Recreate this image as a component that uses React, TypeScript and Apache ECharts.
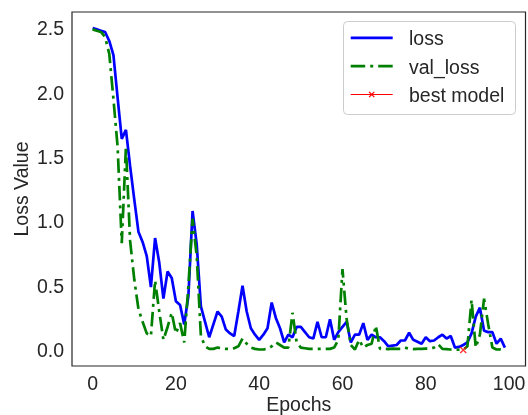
import { useEffect, useRef } from "react";
import * as echarts from "echarts";

const FONT = "'Liberation Sans', Arial, Helvetica, sans-serif";

const seriesNames = ["loss", "val_loss", "best model"];
const xTicks = [0, 20, 40, 60, 80, 100];
const yTicks = [0, 0.5, 1.0, 1.5, 2.0, 2.5];

const loss = [
  2.5, 2.49, 2.48, 2.47, 2.4, 2.29, 1.96, 1.64, 1.71, 1.43,
  1.17, 0.92, 0.84, 0.73, 0.49, 0.87, 0.68, 0.4, 0.61, 0.56,
  0.38, 0.35, 0.2, 0.42, 1.08, 0.82, 0.34, 0.22, 0.1, 0.2,
  0.3, 0.26, 0.16, 0.13, 0.11, 0.3, 0.5, 0.3, 0.17, 0.12,
  0.08, 0.12, 0.17, 0.37, 0.25, 0.17, 0.06, 0.12, 0.1, 0.18,
  0.18, 0.14, 0.1, 0.09, 0.22, 0.1, 0.1, 0.24, 0.08, 0.14,
  0.18, 0.22, 0.06, 0.12, 0.12, 0.21, 0.08, 0.12, 0.1, 0.1,
  0.07, 0.03, 0.035, 0.04, 0.075, 0.075, 0.135, 0.08, 0.065, 0.05,
  0.1, 0.07, 0.075, 0.1, 0.12, 0.09, 0.11, 0.02, 0.025, 0.04,
  0.06, 0.13, 0.26, 0.33, 0.15, 0.14, 0.14, 0.05, 0.09, 0.02,
];

const valLoss = [
  2.49, 2.48, 2.47, 2.43, 2.3, 1.95, 1.58, 0.83, 1.58, 0.85,
  0.55, 0.32, 0.22, 0.13, 0.11, 0.54, 0.3, 0.08, 0.18, 0.29,
  0.13, 0.21, 0.06, 0.5, 1.02, 0.73, 0.11, 0.03, 0.01, 0.01,
  0.02, 0.015, 0.01, 0.01, 0.015, 0.03, 0.09, 0.05, 0.02, 0.01,
  0.005, 0.005, 0.01, 0.03, 0.06, 0.04, 0.02, 0.02, 0.29, 0.06,
  0.02, 0.015, 0.01, 0.01, 0.01, 0.01, 0.01, 0.01, 0.02, 0.08,
  0.63, 0.24, 0.04, 0.005, 0.08, 0.02, 0.04, 0.05, 0.19, 0.01,
  0.01, 0.008, 0.012, 0.01, 0.01, 0.02, 0.01, 0.008, 0.01, 0.01,
  0.012, 0.01, 0.02, 0.045, 0.01, 0.008, 0.005, 0.004, 0.003, 0.002,
  0.03, 0.39, 0.02, 0.12, 0.4, 0.2, 0.02, 0.005, 0.006, 0.005,
];

const bestEpoch = [89];
const bestValue = [0.002];

const BLUE = "#0000ff";
const GREEN = "#008000";
const RED = "#ff0000";
const TEXT = "#262626";
const DASH_DOT = [14.5, 5, 3, 5];
const X_PATH = "path://M0,0L10,10M10,0L0,10";

export default function App() {
  const ref = useRef<HTMLDivElement>(null);

  useEffect(() => {
    if (!ref.current) return;
    document.body.style.margin = "0";
    const chart = echarts.init(ref.current, undefined, { renderer: "svg" });

    const legendX = 343.5;
    const legendY = 21.5;
    const rowY = [38.3, 66.7, 95];
    const lineX1 = 350.7;
    const lineX2 = 392.7;
    const textX = 409;
    const midX = (lineX1 + lineX2) / 2;
    const xs = 2.6;

    const option: any = {
      animation: false,
      textStyle: { fontFamily: FONT },
      grid: {
        left: 72,
        right: 2.5,
        top: 12,
        bottom: 49,
        show: true,
        borderColor: TEXT,
        borderWidth: 1.2,
        backgroundColor: "transparent",
        containLabel: false,
        outerBoundsMode: "none",
      },
      xAxis: {
        type: "value",
        min: -4.95,
        max: 103.95,
        axisLine: { show: false },
        axisTick: { show: false },
        splitLine: { show: false },
        axisLabel: {
          customValues: xTicks,
          fontSize: 19.5,
          color: TEXT,
          fontFamily: FONT,
          margin: 7,
        },
        name: "Epochs",
        nameLocation: "middle",
        nameGap: 28,
        nameMoveOverlap: false,
        nameTextStyle: { fontSize: 19.5, color: TEXT, fontFamily: FONT },
      },
      yAxis: {
        type: "value",
        min: -0.123,
        max: 2.625,
        axisLine: { show: false },
        axisTick: { show: false },
        splitLine: { show: false },
        axisLabel: {
          customValues: yTicks,
          formatter: (v: number) => v.toFixed(1),
          fontSize: 19.5,
          color: TEXT,
          fontFamily: FONT,
          margin: 8,
        },
        name: "Loss Value",
        nameLocation: "middle",
        nameGap: 41,
        nameRotate: 90,
        nameMoveOverlap: false,
        nameTextStyle: { fontSize: 19.5, color: TEXT, fontFamily: FONT },
      },
      series: [
        {
          name: seriesNames[0],
          type: "line",
          data: loss.map((v, i) => [i, v]),
          showSymbol: false,
          symbol: "none",
          lineStyle: { color: BLUE, width: 2.7 },
          z: 2,
        },
        {
          name: seriesNames[1],
          type: "line",
          data: valLoss.map((v, i) => [i, v]),
          showSymbol: false,
          symbol: "none",
          lineStyle: { color: GREEN, width: 2.7, type: DASH_DOT },
          z: 3,
        },
        {
          name: seriesNames[2],
          type: "scatter",
          data: bestEpoch.map((e, i) => [e, bestValue[i]]),
          symbol: X_PATH,
          symbolSize: 6,
          itemStyle: { color: "none", borderColor: RED, borderWidth: 1.4 },
          z: 4,
        },
      ],
      graphic: [
        {
          type: "rect",
          shape: { x: legendX, y: legendY, width: 172, height: 93, r: 4 },
          style: { fill: "rgba(255,255,255,0.8)", stroke: "#cccccc", lineWidth: 1 },
          z: 100,
        },
        {
          type: "line",
          shape: { x1: lineX1, y1: rowY[0] - 0.5, x2: lineX2, y2: rowY[0] - 0.5 },
          style: { stroke: BLUE, lineWidth: 2.7 },
          z: 101,
        },
        {
          type: "line",
          shape: { x1: lineX1, y1: rowY[1] - 0.5, x2: lineX2, y2: rowY[1] - 0.5 },
          style: { stroke: GREEN, lineWidth: 2.7, lineDash: DASH_DOT },
          z: 101,
        },
        {
          type: "line",
          shape: { x1: lineX1, y1: rowY[2] - 0.5, x2: lineX2, y2: rowY[2] - 0.5 },
          style: { stroke: RED, lineWidth: 1.1 },
          z: 101,
        },
        {
          type: "line",
          shape: { x1: midX - xs, y1: rowY[2] - 0.5 - xs, x2: midX + xs, y2: rowY[2] - 0.5 + xs },
          style: { stroke: RED, lineWidth: 1.3 },
          z: 101,
        },
        {
          type: "line",
          shape: { x1: midX - xs, y1: rowY[2] - 0.5 + xs, x2: midX + xs, y2: rowY[2] - 0.5 - xs },
          style: { stroke: RED, lineWidth: 1.3 },
          z: 101,
        },
        ...seriesNames.map((n, i) => ({
          type: "text",
          x: textX,
          y: rowY[i],
          style: {
            text: n,
            fontSize: 19.5,
            fontFamily: FONT,
            fill: TEXT,
            textAlign: "left",
            textVerticalAlign: "middle",
            verticalAlign: "middle",
          },
          z: 101,
        })),
      ],
    };

    chart.setOption(option);
    return () => chart.dispose();
  }, []);

  return (
    <div
      ref={ref}
      style={{ position: "fixed", left: 0, top: 0, width: 528, height: 415 }}
    />
  );
}
